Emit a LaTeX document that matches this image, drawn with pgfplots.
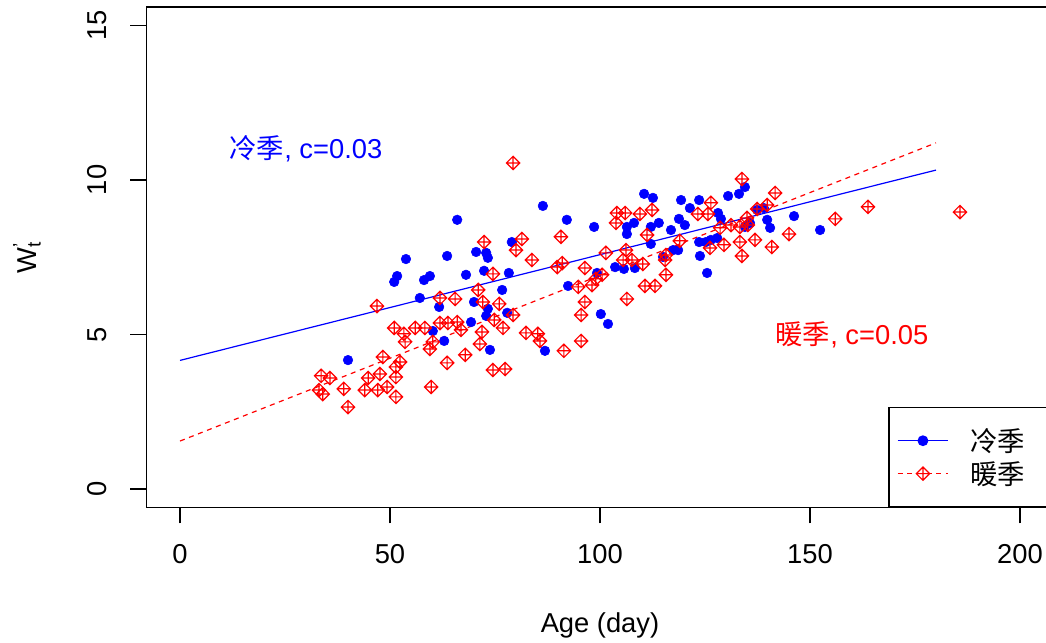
\documentclass[border=0pt]{standalone}
\usepackage{fontspec}
\setmainfont{Liberation Sans}
\newfontfamily\cjk{Noto Sans CJK SC}
\usepackage{pgfplots}
\pgfplotsset{compat=1.18}
\usetikzlibrary{calc}

\newcommand\fs{\fontsize{20.5}{24}\selectfont}

% R pch 9: diamond with a plus through it
\pgfdeclareplotmark{dplus}{%
  \pgfpathmoveto{\pgfqpoint{0pt}{\pgfplotmarksize}}%
  \pgfpathlineto{\pgfqpoint{\pgfplotmarksize}{0pt}}%
  \pgfpathlineto{\pgfqpoint{0pt}{-\pgfplotmarksize}}%
  \pgfpathlineto{\pgfqpoint{-\pgfplotmarksize}{0pt}}%
  \pgfpathclose
  \pgfpathmoveto{\pgfqpoint{0pt}{\pgfplotmarksize}}%
  \pgfpathlineto{\pgfqpoint{0pt}{-\pgfplotmarksize}}%
  \pgfpathmoveto{\pgfqpoint{\pgfplotmarksize}{0pt}}%
  \pgfpathlineto{\pgfqpoint{-\pgfplotmarksize}{0pt}}%
  \pgfusepathqstroke
}

\begin{document}
\begin{tikzpicture}
\useasboundingbox (-109.8pt,-101.6pt) rectangle (674.7pt,380.6pt);
\fill[white] (-109.8pt,-101.6pt) rectangle (674.7pt,380.6pt);
\clip (-109.8pt,-101.6pt) rectangle (674.7pt,380.6pt);
\begin{axis}[
  scale only axis,
  width=680.4pt, height=375.4pt,
  xmin=-8, xmax=208, ymin=-0.6, ymax=15.6,
  xtick={0,50,100,150,200}, ytick={0,5,10,15},
  xtick pos=left, ytick pos=left,
  axis line style={line width=1.1pt},
  tick style={line width=1.1pt, black},
  tick align=outside, major tick length=12pt,
  /pgf/number format/assume math mode=true,
  tick label style={font=\fs},
  xticklabel shift=12pt,
  yticklabel style={rotate=90, anchor=south},
  yticklabel shift=14pt,
  xlabel={Age (day)},
  xlabel style={font=\fs, at={(axis description cs:0.5,0)}, anchor=base, yshift=-93.75pt},
  ylabel={W\rlap{\textsuperscript{'}}\textsubscript{t}},
  ylabel style={font=\fs, at={($(axis description cs:0,0.5)+(-82.5pt,0)$)}, anchor=base},
  legend style={at={(rel axis cs:1,0)}, anchor=south east, draw=black,
    line width=1.1pt, font=\fs\cjk, inner xsep=6pt, inner ysep=13.5pt,
    row sep=2pt, column sep=14pt},
  legend cell align=left,
  legend image code/.code={\draw[mark repeat=2, mark phase=2]
    plot coordinates {(0pt,0pt) (19pt,0pt) (38pt,0pt)};},
]
% cold season
\addplot[only marks, mark=*, mark size=3.6pt, blue, forget plot] coordinates {
(40.0,4.17) (51.0,6.70) (51.7,6.89) (53.8,7.44) (57.1,6.18) (58.1,6.76)
(59.5,6.89) (60.2,5.11) (61.7,5.89) (62.9,4.79) (63.6,7.54) (66.0,8.71)
(68.1,6.93) (69.3,5.40) (70.0,6.05) (70.5,7.67) (72.4,7.06) (72.9,7.64)
(73.3,7.48) (72.9,5.60) (73.3,5.83) (73.8,4.50) (76.7,6.44) (77.9,5.70)
(78.3,6.99) (79.0,7.99) (86.4,9.16) (86.9,4.47) (92.1,8.71) (92.4,6.57)
(98.6,8.48) (99.3,6.99) (100.2,5.66) (101.9,5.34) (103.6,7.18) (105.7,7.12)
(106.4,8.48) (108.1,8.61) (106.4,8.25) (108.3,7.15) (110.5,9.55) (112.6,9.42)
(112.1,8.48) (114.0,8.61) (112.1,7.93) (115.0,7.51) (116.9,8.38) (117.4,7.73)
(118.6,7.73) (118.8,8.74) (119.3,9.35) (120.2,8.54) (121.4,9.09) (123.6,9.35)
(123.6,7.99) (125.2,7.99) (126.4,8.06) (127.9,8.12) (123.8,7.54) (125.5,6.99)
(128.1,8.93) (128.8,8.74) (130.5,9.48) (133.1,9.55) (134.5,9.77) (134.5,8.48)
(135.7,8.61) (137.4,9.03) (139.8,8.71) (140.5,8.45) (146.2,8.83) (152.4,8.38)
(139.0,9.09)
};
% warm season
\addplot[only marks, mark=dplus, mark size=5pt, red, line width=0.9pt, forget plot] coordinates {
(33.6,3.66) (35.7,3.59) (34.0,3.07) (33.1,3.20) (39.0,3.24) (40.0,2.65)
(44.0,3.20) (44.8,3.59) (47.1,3.20) (47.6,3.72) (46.9,5.92) (48.3,4.27)
(49.3,3.30) (51.4,2.98) (51.4,3.62) (51.4,3.95) (52.4,4.11) (51.0,5.21)
(53.3,5.02) (53.6,4.76) (56.0,5.21) (58.3,5.21) (59.5,4.53) (59.8,3.30)
(60.2,4.76) (61.9,6.18) (61.9,5.37) (63.8,5.37) (65.5,6.15) (66.0,5.40)
(66.9,5.15) (63.6,4.08) (67.9,4.34) (71.0,6.44) (72.1,6.05) (71.9,5.08)
(71.4,4.69) (72.4,7.99) (74.5,6.96) (74.5,3.85) (76.0,5.99) (77.4,3.88)
(74.8,5.47) (76.9,5.21) (79.3,5.63) (79.3,10.55) (80.0,7.73) (81.4,8.09)
(83.8,7.41) (82.4,5.05) (85.2,5.02) (85.7,4.79) (90.7,8.16) (91.0,7.31)
(89.8,7.18) (91.4,4.47) (95.5,4.79) (95.5,5.63) (96.4,6.05) (96.4,7.15)
(94.8,6.54) (98.1,6.60) (99.0,6.80) (100.5,6.93) (101.4,7.64) (104.0,8.93)
(106.0,8.93) (109.5,8.90) (103.8,8.61) (112.4,9.03) (106.2,7.73) (105.5,7.41)
(107.6,7.41) (110.2,7.28) (106.4,6.15) (110.7,6.57) (113.1,6.57) (111.2,8.22)
(115.5,7.41) (115.7,7.57) (115.7,6.93) (119.0,8.03) (123.3,8.90) (125.7,8.90)
(126.4,9.26) (126.2,7.80) (129.5,7.90) (128.6,8.45) (131.2,8.54) (133.3,8.48)
(133.3,7.99) (133.8,7.54) (133.8,10.03) (135.0,8.77) (137.4,9.06) (139.8,9.19)
(141.7,9.58) (136.9,8.06) (140.9,7.83) (145.0,8.25) (156.0,8.74) (163.8,9.13)
(185.7,8.96) (135.2,8.54)
};
% fitted lines
\addplot[blue, line width=0.9pt, forget plot] coordinates {(0,4.16) (180,10.32)};
\addplot[red, line width=0.9pt, dash pattern=on 3.75pt off 3.5pt, forget plot]
  coordinates {(0,1.55) (180,11.2)};

\addlegendimage{blue, line width=0.9pt, mark=*, mark size=3.6pt, mark options={solid}}
\addlegendentry{冷季\hspace*{13pt}}
\addlegendimage{red, line width=0.9pt, dash pattern=on 3.75pt off 3.5pt,
  mark=dplus, mark size=5pt, mark options={solid, line width=0.9pt}}
\addlegendentry{暖季\hspace*{13pt}}

\node[blue, font=\fs] at (axis cs:30,11) {{\cjk 冷季}, c=0.03};
\node[red, font=\fs] at (axis cs:160,5) {{\cjk 暖季}, c=0.05};
\end{axis}
\end{tikzpicture}
\end{document}
